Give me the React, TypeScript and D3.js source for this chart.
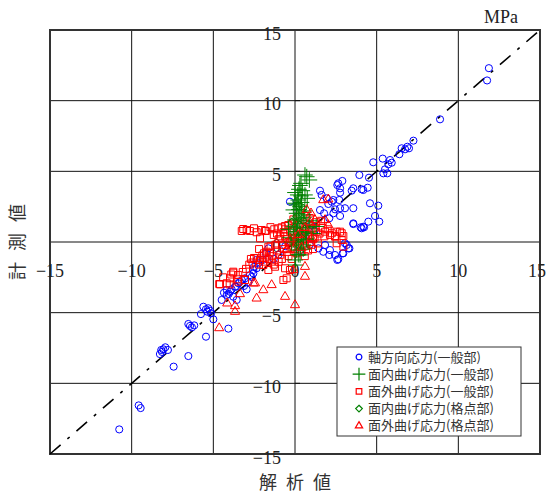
import React from 'react';
import * as d3 from 'd3';

type Pt = [number, number];

const axisTicks = [-15, -10, -5, 0, 5, 10, 15];
const tickText = ['−15', '−10', '−5', '0', '5', '10', '15'];

const seriesNames = [
  '軸方向応力(一般部)',
  '面内曲げ応力(一般部)',
  '面外曲げ応力(一般部)',
  '面内曲げ応力(格点部)',
  '面外曲げ応力(格点部)',
];

// 軸方向応力(一般部)
const axialGeneral: Pt[] = [
  [-10.76, -13.26], [-9.57, -11.56], [-9.45, -11.75], [-7.43, -8.82], [-6.53, -8.07],
  [-8.27, -7.93], [-8.14, -7.78], [-8.06, -7.59], [-7.94, -7.45], [-7.78, -7.64], [-8.19, -7.64],
  [-6.53, -5.8], [-6.43, -5.94], [-6.17, -5.9], [-6.31, -6.04], [-5.45, -6.7], [-5.76, -5.1],
  [-5.61, -4.58], [-5.45, -4.76], [-5.31, -4.69], [-5.2, -4.86], [-5.37, -4.93], [-5.14, -5.05],
  [-5.0, -5.47], [-4.08, -6.13],
  [-4.49, -4.1], [-4.35, -3.59], [-4.18, -3.4], [-4.06, -3.68], [-3.88, -3.35], [-3.78, -3.87],
  [-3.57, -4.1], [-3.61, -3.16], [-3.47, -2.92], [-3.26, -2.69], [-3.12, -3.11], [-2.96, -3.35],
  [-2.86, -2.83], [-2.65, -2.48], [-2.55, -2.22], [-2.35, -1.86], [-2.51, -1.75], [-2.25, -1.51],
  [-2.35, -1.27], [-4.18, -3.75], [-3.98, -3.52], [-3.67, -3.16], [-3.37, -2.81], [-3.06, -2.57],
  [-2.76, -2.34], [-2.55, -1.98], [-1.98, -1.27], [-1.78, -0.8], [-1.63, -0.45],
  [-1.0, -0.9], [-0.6, -0.3], [-1.3, -1.2], [0.3, -0.6], [0.9, -0.2], [0.6, 0.4], [1.0, 1.2], [1.2, 0.8],
  [11.87, 12.3], [11.76, 11.43], [8.88, 8.68], [7.25, 7.17], [6.88, 6.74], [6.53, 6.63], [6.74, 6.56],
  [6.98, 6.63], [6.39, 6.21], [5.37, 5.9], [5.82, 5.8], [5.92, 5.61], [5.71, 5.5], [5.51, 5.14],
  [5.65, 4.86], [5.41, 4.86], [4.79, 5.64], [3.94, 4.74], [4.53, 4.55], [2.9, 4.32], [2.59, 4.03],
  [2.76, 3.49], [3.47, 3.63], [3.57, 3.8], [4.08, 3.73], [4.18, 3.68], [4.45, 3.84], [1.53, 3.63],
  [4.59, 2.74], [5.1, 2.57], [3.57, 2.39], [3.06, 2.39], [2.76, 2.39], [4.9, 1.84], [5.16, 1.44],
  [4.49, 1.44], [4.23, 1.04], [4.02, 1.04], [3.57, 1.27], [2.35, 2.97], [2.04, 2.69], [2.71, 2.97],
  [2.45, 2.31], [2.1, 1.68], [1.78, 2.03], [1.53, 2.26], [3.17, -0.21], [3.33, -0.45], [2.92, -0.8],
  [2.1, -0.92], [1.73, -0.69], [2.65, -1.22], [2.76, 1.84], [2.35, 2.03], [-0.31, 2.85], [1.63, 3.33],
  [1.94, 3.09], [2.25, 2.85], [2.65, 4.15], [2.76, 3.8], [1.84, -0.21], [2.14, -0.57], [2.45, -0.92],
  [1.43, -0.45], [2.59, -1.27], [2.96, -0.8], [3.27, -0.45], [3.06, -0.09], [3.57, 1.32], [4.08, 0.97],
  [4.18, 1.08],
];

// 面外曲げ応力(一般部)
const outPlaneGeneral: Pt[] = [
  [-3.17, 0.92], [-2.96, 0.85], [-2.76, 0.78], [-2.51, 0.97], [-2.35, 0.69], [-2.04, 0.85],
  [-1.78, 0.78], [-3.26, 0.78], [-2.14, 0.26], [-1.27, 0.9], [-1.02, 0.97], [-0.81, 1.04],
  [-0.61, 1.13], [-0.41, 1.2], [-1.84, 0.8], [-1.5, 1.05], [-0.2, 1.3], [-1.1, 0.6],
  [-4.64, -2.97], [-4.18, -2.92], [-3.78, -2.17], [-3.2, -2.12], [-3.53, -2.64], [-2.51, -1.13],
  [-2.35, -1.15], [-1.94, -1.39], [-1.63, -1.98], [-4.59, -3.0], [-3.98, -2.57], [-3.47, -2.81],
  [-0.61, -1.86], [-0.31, -1.98], [-0.51, -2.57], [-0.71, -2.69], [-1.43, -1.39], [-1.22, -1.75],
  [-2.14, -1.27], [-1.94, -1.63], [-3.78, -2.1], [-3.47, -2.34], [-3.06, -2.69], [-1.73, -0.69],
  [-1.63, -0.33], [-4.4, -2.5], [-3.9, -2.3], [-2.8, -1.6], [-3.0, -1.9], [-2.7, -1.2], [-2.2, -1.6],
  [-1.8, -1.1], [-1.3, -1.6], [-4.0, -3.0], [-2.6, -1.45], [-2.0, -0.95], [-1.55, -0.8],
  [2.55, 0.73], [2.86, 0.62], [2.96, 0.42], [2.45, 0.42], [2.55, -0.09], [2.14, 0.5],
  [1.84, 0.73], [2.25, 0.62], [2.45, 0.38], [2.76, 0.73], [2.86, 0.14], [2.96, -0.33],
  [-1.3, 0.5], [-1.0, 0.2], [-0.8, -0.2], [-0.6, 0.4], [-0.4, 0.0], [-0.2, -0.4], [0.0, 0.3],
  [0.2, 0.7], [0.4, 0.1], [0.6, -0.3], [0.8, 0.5], [1.0, 0.9], [1.2, 0.3], [1.4, -0.1], [-1.1, -0.6],
  [-0.9, -0.9], [-0.5, -0.7], [-0.3, 0.8], [0.1, -0.8], [0.5, 1.1], [0.7, 1.3], [1.1, -0.5],
  [1.5, 0.6], [-1.5, -0.3], [-0.7, 0.7], [0.3, -0.2], [0.9, 0.0], [-0.1, 1.0], [1.3, 1.4],
  [1.7, 1.0], [-1.9, -0.8], [-2.2, -0.5], [-1.4, -1.0], [-0.2, -1.2], [0.6, -1.0],
  [-0.1, 1.6], [0.3, 1.8], [0.9, 1.7], [1.6, 1.5],
  [-1.2, -0.2], [-0.9, 0.4], [-0.7, -0.5], [-0.5, 0.2], [-0.3, -0.1], [-0.1, 0.5], [0.1, 0.1],
  [0.3, 0.4], [0.5, 0.6], [0.7, 0.9], [0.9, 0.4], [1.1, 0.2], [1.3, 0.7], [-0.8, -1.2],
  [-0.4, -1.0], [0.0, -0.5], [0.4, -0.7], [0.8, -0.6], [1.2, 1.0], [1.8, 0.4], [2.0, 0.9],
  [-0.6, 0.9], [-0.2, 0.2], [0.2, 1.2], [0.6, 0.2], [1.0, -0.2], [-1.6, -1.2], [-1.0, -1.4],
];

// 面内曲げ応力(一般部)
const inPlaneGeneral: Pt[] = [
  [0.61, 4.74], [0.37, 4.15], [0.24, 3.73], [0.45, 3.63], [0.17, 3.33], [0.37, 3.26], [0.2, 2.97],
  [0.0, 2.74], [0.1, 2.62], [0.31, 2.5], [-0.1, 2.27], [0.1, 2.03], [0.41, 1.91], [0.2, 1.68],
  [0.0, 1.56], [0.31, 1.32], [-0.1, 1.08], [0.1, 0.73], [0.41, 0.5], [0.2, 0.14], [0.51, -0.21],
  [0.1, -0.57], [0.31, -0.92], [0.0, -1.27], [0.04, -1.63],
  [0.72, 4.62], [0.88, 4.39], [0.61, 3.33], [0.75, 3.09],
  [0.8, 1.0], [1.1, 0.6], [-0.4, 0.9], [0.6, 2.2], [0.9, 1.5], [-0.3, 0.3], [0.5, -0.5],
  [0.7, 0.2], [1.3, 1.1], [0.2, -0.9], [0.4, 2.8], [0.0, 3.5], [0.3, 4.0],
  [0.55, 1.75], [0.25, 2.3], [0.65, 0.7], [-0.2, 0.0], [0.35, -0.35], [0.15, 1.0],
];

// 面内曲げ応力(格点部)
const inPlaneJoint: Pt[] = [
  [0.2, 2.6], [0.4, 2.2], [0.1, 1.8], [0.5, 1.5], [0.3, 1.2], [0.6, 0.9], [0.0, 0.6], [0.4, 0.3],
  [0.2, -0.2], [0.7, 1.9], [0.1, 2.9], [0.5, 2.4], [-0.2, 1.4], [0.3, 0.8], [0.8, 1.3],
];

// 面外曲げ応力(格点部)
const outPlaneJoint: Pt[] = [
  [-4.64, -6.09], [-4.15, -4.34], [-3.67, -4.93], [-3.67, -4.53], [-3.37, -3.68], [-2.45, -2.92],
  [1.73, 2.97], [2.04, 3.02], [-2.55, -2.92], [-1.94, -3.4], [0.61, -1.75], [0.61, -2.45],
  [-0.1, -1.98], [0.0, -4.46], [-0.61, -3.87], [-1.43, -3.04], [-2.35, -3.99], [0.72, 2.27],
  [0.98, 2.03], [1.22, 1.56], [1.84, 1.56], [2.04, 1.2], [0.2, 0.5], [0.6, 1.0], [-0.5, -0.5],
  [1.0, 0.3], [0.4, -0.4], [-0.3, 0.2], [0.9, 1.4],
];

const BLUE = '#0000ff';
const GREEN = '#008000';
const RED = '#ff0000';

const W = 547;
const H = 495;
const x = d3.scaleLinear().domain([-15, 15]).range([50, 540]);
const y = d3.scaleLinear().domain([-15, 15]).range([454, 30]);

const sym = (type: d3.SymbolType, size: number) => d3.symbol().type(type).size(size)() as string;

const markers = {
  circle: sym(d3.symbolCircle, 40),
  plus: sym(d3.symbolPlus, 82),
  square: sym(d3.symbolSquare2, 62),
  diamond: sym(d3.symbolDiamond2, 42),
  triangle: sym(d3.symbolTriangle2, 60),
};
const legendMarkers = {
  circle: sym(d3.symbolCircle, 26),
  plus: sym(d3.symbolPlus, 55),
  square: sym(d3.symbolSquare2, 40),
  diamond: sym(d3.symbolDiamond2, 28),
  triangle: sym(d3.symbolTriangle2, 38),
};

const series = [
  { data: axialGeneral, shape: 'circle', color: BLUE },
  { data: inPlaneGeneral, shape: 'plus', color: GREEN },
  { data: outPlaneGeneral, shape: 'square', color: RED },
  { data: inPlaneJoint, shape: 'diamond', color: GREEN },
  { data: outPlaneJoint, shape: 'triangle', color: RED },
] as const;

// drawing order: blue under red, green crosses over squares, triangles on top
const drawOrder = [0, 2, 1, 3, 4];

const serif = '"Liberation Serif", "DejaVu Serif", serif';
const jp = '"Noto Sans CJK JP", sans-serif';

export default function App() {
  const diag = d3.line<number>().x((v) => x(v)).y((v) => y(v))([-15, 15]) as string;
  const lx = 337;
  const ly = 347;
  return (
    <svg width={W} height={H} style={{ position: 'absolute', left: 0, top: 0, background: '#fff' }}>
      <rect x={0} y={0} width={W} height={H} fill="#fff" />
      {/* grid */}
      {axisTicks.map((t) => (
        <g key={'g' + t}>
          <line x1={x(t)} x2={x(t)} y1={y(-15)} y2={y(15)} stroke="#111" strokeWidth={1} />
          <line x1={x(-15)} x2={x(15)} y1={y(t)} y2={y(t)} stroke="#111" strokeWidth={1} />
        </g>
      ))}
      {/* ticks on vertical zero axis */}
      {axisTicks.map((t) => (
        <line key={'t' + t} x1={x(0)} x2={x(0) + 5} y1={y(t)} y2={y(t)} stroke="#111" />
      ))}
      <rect x={x(-15)} y={y(15)} width={x(15) - x(-15)} height={y(-15) - y(15)} fill="none" stroke="#333" strokeWidth={2} />
      {/* tick labels */}
      {axisTicks.map((t, i) => (
        <text key={'xl' + t} x={Math.min(x(t), 537)} y={277} textAnchor="middle" fontFamily={serif} fontSize={18} fill="#222">
          {tickText[i]}
        </text>
      ))}
      {axisTicks.map((t, i) => (
        <text key={'yl' + t} x={281} y={y(t) + 9.5} textAnchor="end" fontFamily={serif} fontSize={18} fill="#222">
          {tickText[i]}
        </text>
      ))}
      {/* 1:1 line */}
      <path d={diag} stroke="#000" strokeWidth={1.6} strokeDasharray="14,9,3,9" fill="none" />
      {/* points */}
      {drawOrder.map((si) => {
        const s = series[si];
        return (
          <g key={'s' + si}>
            {s.data.map((p, j) => (
              <path
                key={j}
                d={markers[s.shape]}
                transform={`translate(${x(p[0])},${y(p[1])})`}
                fill="none"
                stroke={s.color}
                strokeWidth={1}
              />
            ))}
          </g>
        );
      })}
      {/* legend */}
      <rect x={lx} y={ly} width={184} height={89} fill="#fff" stroke="#333" strokeWidth={1} />
      {series.map((s, i) => (
        <g key={'lg' + i} transform={`translate(${lx + 22},${ly + 10 + i * 17.2})`}>
          <path d={legendMarkers[s.shape]} fill="none" stroke={s.color} strokeWidth={1.2} />
          <text x={9} y={4.5} fontFamily={jp} fontSize={13} fill="#333">
            {seriesNames[i]}
          </text>
        </g>
      ))}
      {/* titles */}
      <text x={518} y={23} textAnchor="end" fontFamily={serif} fontSize={18} fill="#222">MPa</text>
      {['解', '析', '値'].map((c, i) => (
        <text key={'xt' + i} x={x(0) + (i - 1) * 27} y={489} textAnchor="middle" fontFamily={jp} fontSize={18} fill="#333">
          {c}
        </text>
      ))}
      {['計', '測', '値'].map((c, i) => (
        <text
          key={'yt' + i}
          transform={`translate(24,${y(0) + (1 - i) * 29}) rotate(-90)`}
          textAnchor="middle"
          fontFamily={jp}
          fontSize={18}
          fill="#333"
        >
          {c}
        </text>
      ))}
    </svg>
  );
}
